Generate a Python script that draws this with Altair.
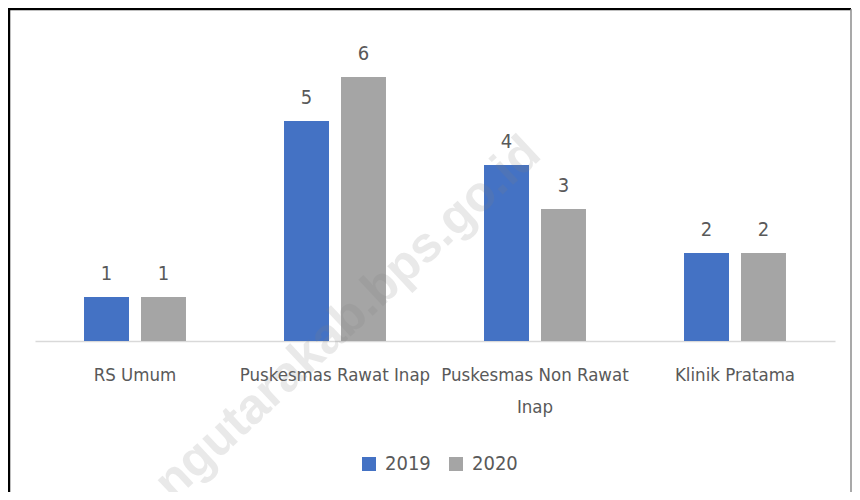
import altair as alt
import pandas as pd

categories = ["RS Umum", "Puskesmas Rawat Inap", "Puskesmas Non Rawat Inap", "Klinik Pratama"]
years = ["2019", "2020"]
values_2019 = [1, 5, 4, 2]
values_2020 = [1, 6, 3, 2]
colors = ["#4472C4", "#A5A5A5"]
watermark_text = "ngutarakab.bps.go.id"

rows = []
for c, a, b in zip(categories, values_2019, values_2020):
    rows.append({"kategori": c, "tahun": years[0], "nilai": a})
    rows.append({"kategori": c, "tahun": years[1], "nilai": b})
df = pd.DataFrame(rows)

FONT = "DejaVu Sans Condensed, sans-serif"
FS = 18.5
TXT = "#595959"

x = alt.X(
    "kategori:N",
    sort=categories,
    scale=alt.Scale(paddingInner=0, paddingOuter=0),
    axis=alt.Axis(
        title=None,
        labelAngle=0,
        labelFont=FONT,
        labelFontSize=FS,
        labelColor=TXT,
        labelPadding=24,
        labelLineHeight=32,
        labelLimit=400,
        ticks=False,
        domainColor="#D9D9D9",
        domainWidth=1.5,
        labelExpr="datum.label == 'Puskesmas Non Rawat Inap' ? ['Puskesmas Non Rawat', 'Inap'] : datum.label",
    ),
)
xo = alt.XOffset("tahun:N", sort=years, scale=alt.Scale(paddingInner=0.2105, paddingOuter=0.86))
y = alt.Y("nilai:Q", scale=alt.Scale(domain=[0, 7]), axis=None)

base = alt.Chart(df)

bars = base.mark_bar().encode(
    x=x,
    xOffset=xo,
    y=y,
    color=alt.Color(
        "tahun:N",
        sort=years,
        scale=alt.Scale(domain=years, range=colors),
        legend=alt.Legend(
            title=None,
            orient="none",
            legendX=324,
            legendY=421,
            direction="horizontal",
            symbolType="square",
            symbolSize=196,
            symbolStrokeWidth=0,
            labelFont=FONT,
            labelFontSize=20,
            labelColor=TXT,
            columnPadding=15,
            labelOffset=6,
        ),
    ),
)

labels = base.mark_text(font=FONT, fontSize=20, color=TXT, baseline="alphabetic", dy=-17).encode(
    x=x, xOffset=xo, y=y, text=alt.Text("nilai:Q")
)

wm = alt.Chart(pd.DataFrame({"t": [watermark_text]})).mark_text(
    font="Liberation Sans", fontWeight="bold", fontSize=50, color="#808080", opacity=0.17,
    align="right", baseline="alphabetic", angle=317,
).encode(x=alt.value(508), y=alt.value(124), text="t:N")

one = pd.DataFrame({"a": [0]})
left = alt.Chart(one).mark_rule(color="#000000", strokeWidth=2.5).encode(
    x=alt.value(-26), y=alt.value(-24), y2=alt.value(460))
top = alt.Chart(one).mark_rule(color="#000000", strokeWidth=2.5).encode(
    x=alt.value(-27), x2=alt.value(816), y=alt.value(-24))
right = alt.Chart(one).mark_rule(color="#8C8C8C", strokeWidth=1.5).encode(
    x=alt.value(816), y=alt.value(-24), y2=alt.value(460))

chart = alt.layer(bars, labels, wm, left, top, right).properties(
    width=800,
    height=308,
    background="white",
    autosize=alt.AutoSizeParams(type="none"),
    padding={"left": 27, "top": 25, "right": 17, "bottom": 151},
).configure_view(strokeWidth=0, stroke="transparent")

chart.save("out.html", embed_options={"renderer": "svg", "actions": False})
